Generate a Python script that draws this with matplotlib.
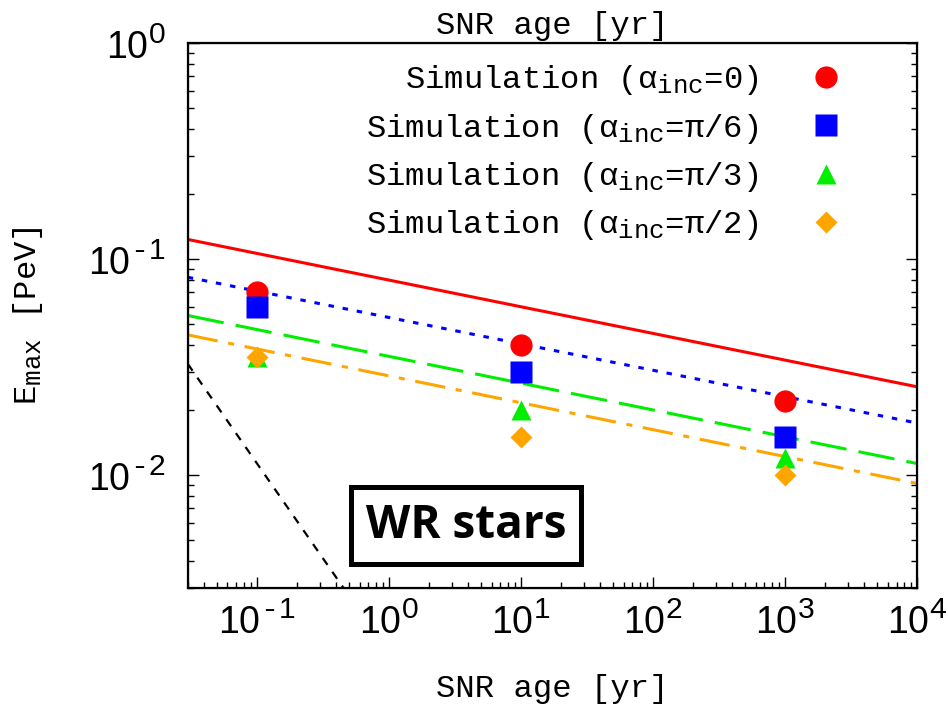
import matplotlib
matplotlib.use("Agg")
import matplotlib.pyplot as plt
from matplotlib.ticker import FuncFormatter, LogLocator, NullFormatter
import numpy as np
try:
    import matplotlib._mathtext as _mt
    _mt.SHRINK_FACTOR = 0.8
except Exception:
    pass

plt.rcParams['font.family'] = ['Liberation Mono', 'DejaVu Sans Mono']
plt.rcParams['mathtext.fontset'] = 'custom'
plt.rcParams['mathtext.rm'] = 'Liberation Mono'
plt.rcParams['mathtext.it'] = 'Liberation Mono'
plt.rcParams['mathtext.sf'] = 'Liberation Sans'

# ---- data ----
sim_age = [0.1, 10, 1000]
sim_a0 = [0.070, 0.040, 0.022]
sim_a6 = [0.060, 0.030, 0.015]
sim_a3 = [0.035, 0.020, 0.012]
sim_a2 = [0.035, 0.015, 0.010]

line_age = [0.03, 1e4]
line_a0 = [0.123, 0.0256]
line_a6 = [0.0822, 0.0174]
line_a3 = [0.0547, 0.0113]
line_a2 = [0.0445, 0.00914]

wr_age = [0.03, 1.0]
wr_emax = [0.0327, 0.0015]

labels = [r"Simulation ($\alpha_{\rm inc}$=0)",
          r"Simulation ($\alpha_{\rm inc}$=π/6)",
          r"Simulation ($\alpha_{\rm inc}$=π/3)",
          r"Simulation ($\alpha_{\rm inc}$=π/2)"]

fig = plt.figure(figsize=(9.48, 7.06), dpi=100)
ax = fig.add_axes([0.198, 0.1671, 0.7693, 0.7724])

ax.plot(line_age, line_a0, color='#ff0000', lw=2.2, solid_capstyle='butt')
ax.plot(line_age, line_a6, color='#0000ff', lw=2.2, dashes=(1.8, 2.9))
ax.plot(line_age, line_a3, color='#00ee00', lw=2.2, dashes=(12, 4))
ax.plot(line_age, line_a2, color='#ffa500', lw=2.2, dashes=(10, 3.5, 2, 3.5))
ax.plot(wr_age, wr_emax, color='black', lw=1.6, dashes=(3.8, 3.8))

ax.plot(sim_age, sim_a0, 'o', color='#ff0000', ms=16, mec='none', label=labels[0])
ax.plot(sim_age, sim_a6, 's', color='#0000ff', ms=16.5, mec='none', label=labels[1])
ax.plot(sim_age, sim_a3, '^', color='#00ee00', ms=15, mec='none', label=labels[2])
ax.plot(sim_age, sim_a2, 'D', color='#ffa500', ms=11, mec='none', label=labels[3])

ax.set_xscale('log')
ax.set_yscale('log')
ax.set_xlim(0.03, 1e4)
ax.set_ylim(0.003, 1)


def _fmt(v, p):
    e = int(round(np.log10(v)))
    if e < 0:
        return r'$\mathsf{10^{\text{-}%d}}$' % (-e)
    return r'$\mathsf{10^{%d}}$' % e


fmt = FuncFormatter(_fmt)
ax.xaxis.set_major_formatter(fmt)
ax.yaxis.set_major_formatter(fmt)
ax.xaxis.set_minor_formatter(NullFormatter())
ax.yaxis.set_minor_formatter(NullFormatter())
ax.xaxis.set_major_locator(LogLocator(base=10, numticks=20))
ax.xaxis.set_minor_locator(LogLocator(base=10, subs=np.arange(2, 10), numticks=20))

for s in ax.spines.values():
    s.set_linewidth(1.6)

ax.tick_params(axis='both', which='major', direction='in', length=8, width=1.0,
               labelsize=27, top=True, right=True)
ax.tick_params(axis='both', which='minor', direction='in', length=4, width=1.0,
               top=True, right=True)
ax.tick_params(axis='x', which='major', pad=10)
ax.tick_params(axis='y', which='major', pad=16)

ax.set_xlabel('SNR age [yr]', fontsize=23.2)
ax.xaxis.set_label_coords(0.5, -0.158)
ax.set_ylabel(r'E$_{\rm max}$ [PeV]', fontsize=23.2)
ax.yaxis.set_label_coords(-0.195, 0.5)

ax2 = ax.twiny()
ax2.set_xscale('log')
ax2.set_xlim(ax.get_xlim())
ax2.tick_params(axis='x', which='both', labeltop=False, top=False, bottom=False)
ax2.set_xlabel('SNR age [yr]', fontsize=23.2, labelpad=6)

leg = ax.legend(loc='upper right', bbox_to_anchor=(0.897, 0.962), frameon=False,
                markerfirst=False, fontsize=23.2, handlelength=1.0, handletextpad=1.6,
                borderpad=0, borderaxespad=0, labelspacing=0.44, numpoints=1)

ax.text(0.382, 0.1146, 'WR stars', transform=ax.transAxes, ha='center', va='center',
        fontsize=33, fontweight='bold', family=['Open Sans', 'DejaVu Sans'],
        bbox=dict(boxstyle='square,pad=0.32', fc='white', ec='black', lw=3.6))

fig.savefig('out.png', dpi=100)
